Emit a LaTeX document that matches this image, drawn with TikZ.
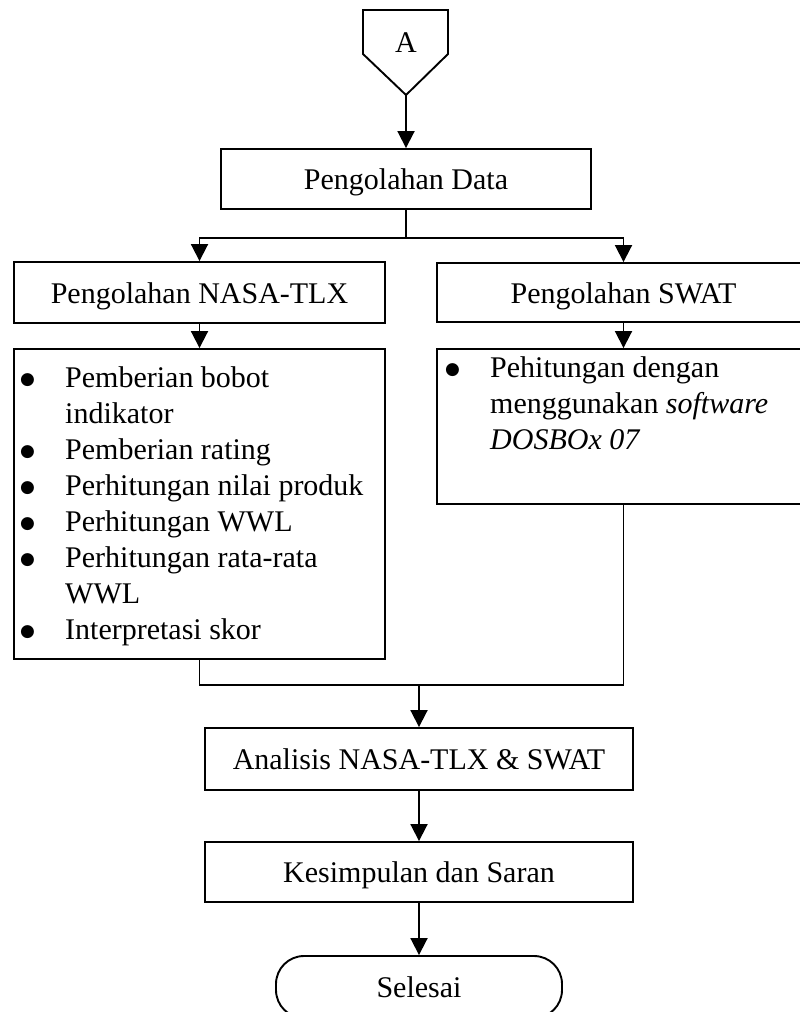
\documentclass[tikz,border=0pt]{standalone}
\usepackage{fontspec}
\setmainfont{Liberation Serif}
\newfontfamily\symfont{DejaVu Sans}
\usetikzlibrary{arrows.meta}
\newcommand{\bul}{\makebox[45pt][l]{\raisebox{3pt}{\symfont\fontsize{17}{20}\selectfont ●}}}
\begin{document}
\begin{tikzpicture}[x=1pt,y=-1pt,
  font=\fontsize{30}{36}\selectfont,
  box/.style={draw, line width=1.9pt, rectangle, inner sep=0pt},
  lbl/.style={text height=25pt, text depth=4pt},
  arr/.style={line width=1.9pt, -{Triangle[length=17pt,width=17pt]}},
  ln/.style={line width=1.9pt},
  txt/.style={anchor=base west, inner sep=0pt}
]
\useasboundingbox (0,0) rectangle (800,1012);
% off-page connector
\draw[ln] (363,10) -- (448,10) -- (448,54) -- (406,95) -- (363,54) -- cycle;
\node[inner sep=0pt, anchor=base] (A) at (406,52) {A};
\coordinate (Atip) at (406,95);
% boxes
\node[box, lbl, minimum width=370pt, minimum height=60pt] (data) at (406,179) {Pengolahan Data};
\node[box, lbl, minimum width=371pt, minimum height=61pt] (nasa) at (199.5,292.5) {Pengolahan NASA-TLX};
\node[box, lbl, minimum width=373pt, minimum height=59pt] (swat) at (623.5,292.5) {Pengolahan SWAT};
\node[box, minimum width=371pt, minimum height=310pt] (nasalist) at (199.5,504) {};
\node[box, minimum width=373pt, minimum height=155pt] (swatlist) at (623.5,426.5) {};
\node[box, lbl, minimum width=428pt, minimum height=62pt] (anal) at (419,759) {Analisis NASA-TLX \& SWAT};
\node[box, lbl, minimum width=428pt, minimum height=60pt] (kes) at (419,872) {Kesimpulan dan Saran};
\node[box, lbl, rounded corners=28pt, minimum width=286pt, minimum height=62pt] (end) at (419,987) {Selesai};
% list NASA-TLX
\node[txt] (n1) at (20,387) {\bul Pemberian bobot};
\node[txt] (n2) at (65,423) {indikator};
\node[txt] (n3) at (20,459) {\bul Pemberian rating};
\node[txt] (n4) at (20,495) {\bul Perhitungan nilai produk};
\node[txt] (n5) at (20,531) {\bul Perhitungan WWL};
\node[txt] (n6) at (20,567) {\bul Perhitungan rata-rata};
\node[txt] (n7) at (65,603) {WWL};
\node[txt] (n8) at (20,639) {\bul Interpretasi skor};
% list SWAT
\node[txt] (s1) at (445,377) {\bul Pehitungan dengan};
\node[txt] (s2) at (490,413) {menggunakan \textit{software}};
\node[txt] (s3) at (490,449) {\textit{DOSBOx 07}};
% connectors
\draw[arr] (Atip) -- (data.north);
\draw[ln] (data.south) -- ++(0,28) coordinate (split);
\draw[arr] (split) -| (nasa.north);
\draw[arr] (split) -| (swat.north);
\draw[arr] (nasa.south) -- (nasalist.north);
\draw[arr] (swat.south) -- (swatlist.north);
\coordinate (mrg) at (419,685);
\draw[ln] (nasalist.south) |- (mrg) -| (swatlist.south);
\draw[arr] (mrg) -- (anal.north);
\draw[arr] (anal.south) -- (kes.north);
\draw[arr] (kes.south) -- (end.north);
\end{tikzpicture}
\end{document}
